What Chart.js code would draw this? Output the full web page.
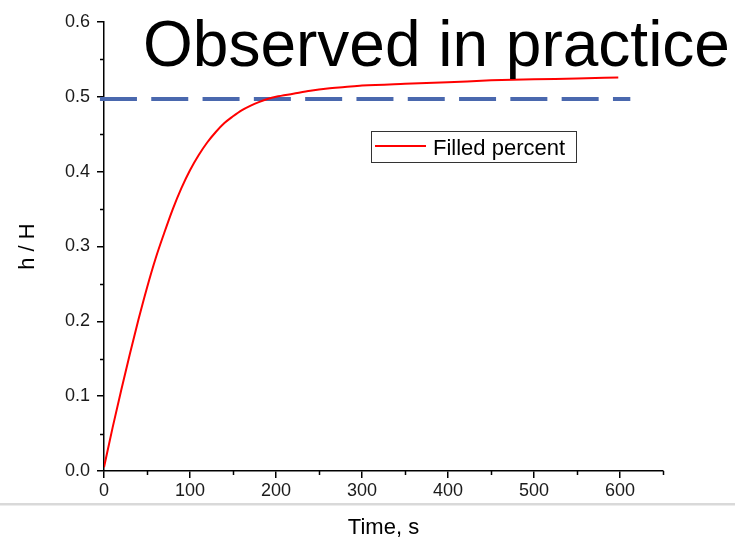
<!DOCTYPE html>
<html>
<head>
<meta charset="utf-8">
<script src="https://cdn.jsdelivr.net/npm/chart.js@4/dist/chart.umd.min.js"></script>
<style>
  html, body { margin: 0; padding: 0; background: #fff; }
  #wrap { position: relative; width: 735px; height: 540px; }
</style>
</head>
<body>
<div id="wrap"><canvas id="c" width="735" height="540"></canvas></div>
<script>
// ---- data ----
const timeS = [0, 10, 20, 30, 40, 50, 60, 70, 80, 90, 100, 110, 120, 130, 140, 150, 160, 170, 180, 190, 200, 220, 240, 260, 280, 300, 350, 400, 450, 500, 550, 598];
const filledPercent = [0.005, 0.058, 0.108, 0.156, 0.202, 0.245, 0.284, 0.318, 0.350, 0.378, 0.402, 0.422, 0.439, 0.453, 0.465, 0.474, 0.482, 0.488, 0.493, 0.497, 0.500, 0.504, 0.508, 0.511, 0.513, 0.515, 0.5175, 0.5195, 0.522, 0.5235, 0.5245, 0.526];
const observedTime = [-4.7, 612];
const observedLevel = [0.497, 0.497];
const xRange = [0, 650];
const yRange = [0, 0.6];
const xMajorStep = 100;
const yMajorStep = 0.1;
const xMinorTicks = [50, 150, 250, 350, 450, 550, 650];
const yMinorTicks = [0.05, 0.15, 0.25, 0.35, 0.45, 0.55];
const titleText = "Observed in practice";
const seriesLabel = "Filled percent";
const xTitle = "Time, s";
const yTitle = "h / H";

const FONT = "'Liberation Sans', Arial, sans-serif";

const decor = {
  id: 'decor',
  beforeDraw(chart) {
    const ctx = chart.ctx;
    ctx.save();
    ctx.fillStyle = '#ffffff';
    ctx.fillRect(0, 0, chart.width, chart.height);
    // light separator band
    ctx.fillStyle = '#d9d9d9';
    ctx.fillRect(0, 503, chart.width, 2);
    ctx.fillStyle = '#ececec';
    ctx.fillRect(0, 505, chart.width, 1);
    ctx.restore();
  },
  afterDraw(chart) {
    const ctx = chart.ctx;
    const xs = chart.scales.x, ys = chart.scales.y;
    ctx.save();
    // minor ticks
    ctx.strokeStyle = '#000';
    ctx.lineWidth = 1.5;
    ctx.beginPath();
    xMinorTicks.forEach(v => {
      const px = Math.round(xs.getPixelForValue(v)) + 0.5;
      ctx.moveTo(px, xs.top);
      ctx.lineTo(px, xs.top + 4);
    });
    yMinorTicks.forEach(v => {
      const py = Math.round(ys.getPixelForValue(v)) + 0.5;
      ctx.moveTo(ys.right - 4, py);
      ctx.lineTo(ys.right, py);
    });
    ctx.stroke();

    // big title
    ctx.fillStyle = '#000';
    ctx.font = '64px ' + FONT;
    ctx.textBaseline = 'alphabetic';
    ctx.textAlign = 'left';
    ctx.fillText(titleText, 143, 66);

    // legend box
    ctx.fillStyle = '#fff';
    ctx.fillRect(371, 131, 206, 31);
    ctx.strokeStyle = '#333';
    ctx.lineWidth = 1;
    ctx.strokeRect(371.5, 131.5, 205, 31);
    ctx.strokeStyle = '#ff0000';
    ctx.lineWidth = 2;
    ctx.beginPath();
    ctx.moveTo(375, 146);
    ctx.lineTo(426, 146);
    ctx.stroke();
    ctx.fillStyle = '#000';
    ctx.font = '22px ' + FONT;
    ctx.fillText(chart.data.datasets[0].label, 433, 155);
    ctx.restore();
  }
};

new Chart(document.getElementById('c'), {
  type: 'line',
  data: {
    datasets: [
      {
        label: seriesLabel,
        data: timeS.map((t, i) => ({ x: t, y: filledPercent[i] })),
        borderColor: '#ff0000',
        borderWidth: 2,
        pointRadius: 0,
        cubicInterpolationMode: 'monotone',
        fill: false
      },
      {
        label: 'Observed',
        data: observedTime.map((t, i) => ({ x: t, y: observedLevel[i] })),
        borderColor: '#4a68ae',
        borderWidth: 4,
        borderDash: [37, 14.3],
        pointRadius: 0,
        clip: false,
        fill: false
      }
    ]
  },
  plugins: [decor],
  options: {
    responsive: false,
    animation: false,
    devicePixelRatio: 1,
    layout: { padding: { top: 22, right: 72, bottom: 0, left: 0 } },
    plugins: { legend: { display: false }, title: { display: false }, tooltip: { enabled: false } },
    scales: {
      x: {
        type: 'linear',
        min: xRange[0], max: xRange[1],
        afterFit(s) { s.height = 69; },
        border: { display: true, color: '#000', width: 1.5 },
        grid: { drawOnChartArea: false, drawTicks: true, tickLength: 7, color: '#000', lineWidth: 1.5 },
        ticks: {
          stepSize: xMajorStep, includeBounds: false, padding: 2,
          color: '#1a1a1a', font: { family: FONT, size: 18 },
          maxRotation: 0,
          callback: v => String(v)
        },
        title: {
          display: true, text: xTitle, color: '#000',
          font: { family: FONT, size: 22, lineHeight: 1 },
          padding: { top: 0, bottom: 1 }
        }
      },
      y: {
        type: 'linear',
        min: yRange[0], max: yRange[1],
        afterFit(s) { s.width = 104; },
        border: { display: true, color: '#000', width: 1.5 },
        grid: { drawOnChartArea: false, drawTicks: true, tickLength: 7, color: '#000', lineWidth: 1.5 },
        ticks: {
          stepSize: yMajorStep, padding: 7,
          color: '#1a1a1a', font: { family: FONT, size: 18 },
          callback: v => Number(v).toFixed(1)
        },
        title: {
          display: true, text: yTitle, color: '#000',
          font: { family: FONT, size: 22, lineHeight: 1 },
          padding: { top: 17, bottom: 0 }
        }
      }
    }
  }
});
</script>
</body>
</html>
